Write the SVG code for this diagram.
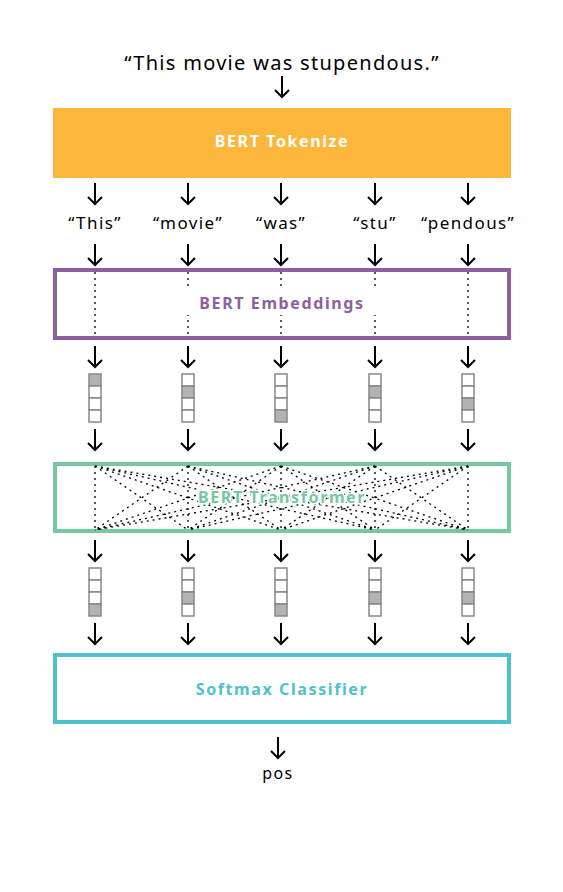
<svg xmlns="http://www.w3.org/2000/svg" width="563" height="892" viewBox="0 0 563 892">
<defs>
<style>
.t{font-family:"Noto Sans","DejaVu Sans",sans-serif;fill:#000;text-anchor:middle;letter-spacing:1.4px}
.b{font-family:"Noto Sans","DejaVu Sans",sans-serif;font-weight:bold;font-size:16px;text-anchor:middle;letter-spacing:1.6px}
.arr{fill:none;stroke:#000;stroke-width:2}
.dot{fill:none;stroke:#000;stroke-width:1.3;stroke-dasharray:2 4}
.cell{fill:#fff;stroke:#888;stroke-width:1.5}
.on{fill:#b3b3b3}
</style>
<g id="a"><path class="arr" d="M0,0 V21 M-7,14 L0,21 L7,14"/></g>
</defs>
<rect width="563" height="892" fill="#fff"/>

<g id="input"><text class="t" x="282" y="70" font-size="20" style="letter-spacing:1.3px">“This movie was stupendous.”</text></g>

<g id="tokenize">
<rect x="53" y="108" width="458" height="70" fill="#FDB73C"/>
<text class="b" x="282" y="147" fill="#fff">BERT Tokenize</text>
</g>

<g id="tokens" class="t" font-size="17">
<text x="95" y="229">“This”</text>
<text x="188" y="229">“movie”</text>
<text x="281" y="229">“was”</text>
<text x="375" y="229">“stu”</text>
<text x="468" y="229">“pendous”</text>
</g>

<g id="connectors">
<use href="#a" x="282" y="76"/>
<use href="#a" x="95" y="183"/><use href="#a" x="188" y="183"/><use href="#a" x="281" y="183"/><use href="#a" x="375" y="183"/><use href="#a" x="468" y="183"/>
<use href="#a" x="95" y="244"/><use href="#a" x="188" y="244"/><use href="#a" x="281" y="244"/><use href="#a" x="375" y="244"/><use href="#a" x="468" y="244"/>
<use href="#a" x="95" y="346"/><use href="#a" x="188" y="346"/><use href="#a" x="281" y="346"/><use href="#a" x="375" y="346"/><use href="#a" x="468" y="346"/>
<use href="#a" x="95" y="429"/><use href="#a" x="188" y="429"/><use href="#a" x="281" y="429"/><use href="#a" x="375" y="429"/><use href="#a" x="468" y="429"/>
<use href="#a" x="95" y="540"/><use href="#a" x="188" y="540"/><use href="#a" x="281" y="540"/><use href="#a" x="375" y="540"/><use href="#a" x="468" y="540"/>
<use href="#a" x="95" y="623"/><use href="#a" x="188" y="623"/><use href="#a" x="281" y="623"/><use href="#a" x="375" y="623"/><use href="#a" x="468" y="623"/>
<use href="#a" x="278" y="737"/>
</g>

<g id="embeddings">
<rect x="55" y="270" width="454" height="68" fill="#fff" stroke="#8E5EA2" stroke-width="4"/>
<path class="dot" d="M95,272V338M188,272V338M281,272V338M375,272V338M468,272V338"/>
<rect x="180" y="287" width="205" height="28" fill="#fff"/>
<text class="b" x="282" y="309" fill="#8E5EA2">BERT Embeddings</text>
</g>

<g id="transformer">
<rect x="55" y="464" width="454" height="67" fill="#fff" stroke="#76C8A2" stroke-width="4"/>
<path class="dot" d="M95,466L95,530M95,466L188,530M95,466L281,530M95,466L375,530M95,466L468,530
M188,466L95,530M188,466L188,530M188,466L281,530M188,466L375,530M188,466L468,530
M281,466L95,530M281,466L188,530M281,466L281,530M281,466L375,530M281,466L468,530
M375,466L95,530M375,466L188,530M375,466L281,530M375,466L375,530M375,466L468,530
M468,466L95,530M468,466L188,530M468,466L281,530M468,466L375,530M468,466L468,530"/>
<text class="b" x="282" y="503" fill="#76C8A2" stroke="#fff" stroke-width="3" paint-order="stroke">BERT Transformer</text>
</g>

<g id="classifier">
<rect x="55" y="655" width="454" height="67" fill="#fff" stroke="#4FC1CE" stroke-width="4"/>
<text class="b" x="282" y="695" fill="#4FC1CE">Softmax Classifier</text>
</g>

<g id="output"><text class="t" x="278" y="779" font-size="16">pos</text></g>

<g id="vectors1">
<rect class="cell on" x="89" y="374" width="12" height="12"/><rect class="cell" x="89" y="386" width="12" height="12"/><rect class="cell" x="89" y="398" width="12" height="12"/><rect class="cell" x="89" y="410" width="12" height="12"/>
<rect class="cell" x="182" y="374" width="12" height="12"/><rect class="cell on" x="182" y="386" width="12" height="12"/><rect class="cell" x="182" y="398" width="12" height="12"/><rect class="cell" x="182" y="410" width="12" height="12"/>
<rect class="cell" x="275" y="374" width="12" height="12"/><rect class="cell" x="275" y="386" width="12" height="12"/><rect class="cell" x="275" y="398" width="12" height="12"/><rect class="cell on" x="275" y="410" width="12" height="12"/>
<rect class="cell" x="369" y="374" width="12" height="12"/><rect class="cell on" x="369" y="386" width="12" height="12"/><rect class="cell" x="369" y="398" width="12" height="12"/><rect class="cell" x="369" y="410" width="12" height="12"/>
<rect class="cell" x="462" y="374" width="12" height="12"/><rect class="cell" x="462" y="386" width="12" height="12"/><rect class="cell on" x="462" y="398" width="12" height="12"/><rect class="cell" x="462" y="410" width="12" height="12"/>
</g>

<g id="vectors2">
<rect class="cell" x="89" y="568" width="12" height="12"/><rect class="cell" x="89" y="580" width="12" height="12"/><rect class="cell" x="89" y="592" width="12" height="12"/><rect class="cell on" x="89" y="604" width="12" height="12"/>
<rect class="cell" x="182" y="568" width="12" height="12"/><rect class="cell" x="182" y="580" width="12" height="12"/><rect class="cell on" x="182" y="592" width="12" height="12"/><rect class="cell" x="182" y="604" width="12" height="12"/>
<rect class="cell" x="275" y="568" width="12" height="12"/><rect class="cell" x="275" y="580" width="12" height="12"/><rect class="cell" x="275" y="592" width="12" height="12"/><rect class="cell on" x="275" y="604" width="12" height="12"/>
<rect class="cell" x="369" y="568" width="12" height="12"/><rect class="cell" x="369" y="580" width="12" height="12"/><rect class="cell on" x="369" y="592" width="12" height="12"/><rect class="cell" x="369" y="604" width="12" height="12"/>
<rect class="cell" x="462" y="568" width="12" height="12"/><rect class="cell" x="462" y="580" width="12" height="12"/><rect class="cell on" x="462" y="592" width="12" height="12"/><rect class="cell" x="462" y="604" width="12" height="12"/>
</g>
</svg>
